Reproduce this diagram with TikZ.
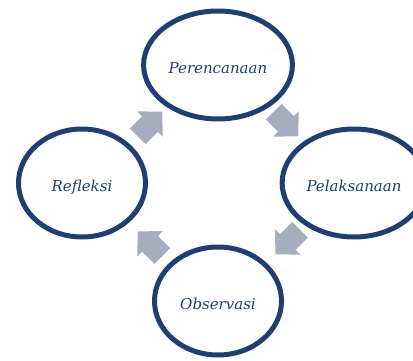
\documentclass[tikz,border=0pt]{standalone}
\usepackage{fontspec}
\setmainfont{DejaVu Serif}
\usetikzlibrary{positioning,calc,shapes.geometric,arrows.meta}
\definecolor{navy}{HTML}{1F3F71}
\definecolor{steel}{HTML}{A6ADBE}

\begin{document}
\begin{tikzpicture}[x=1pt,y=1pt,on grid,node distance=118pt and 136pt,
    main node/.style={ellipse,draw=navy,line width=5pt,minimum width=127pt,
      minimum height=108pt,text=navy,text height=16pt,text depth=0pt,
      font=\itshape\fontsize{15}{18}\selectfont},
    step arrow/.style={draw=steel,line width=22pt,
      -{Triangle[width=35pt,length=17.5pt,fill=steel]}}]

    \useasboundingbox (0,0) rectangle (413,360);

    \node[main node] (0) at (218,295) {Perencanaan};
    \node[main node] (1) [below right=of 0] {Pelaksanaan};
    \node[main node] (2) [below=236pt of 0] {Observasi};
    \node[main node] (3) [below left=of 0] {Refleksi};

    \coordinate (30) at ($(3)!0.5!(0)$);
    \coordinate (01) at ($(0)!0.5!(1)$);
    \coordinate (12) at ($(1)!0.5!(2)$);
    \coordinate (23) at ($(2)!0.5!(3)$);

    \draw[step arrow] ($(30)+(-12.3,-12.3)$) -- ($(30)+(12.3,12.3)$);
    \draw[step arrow] ($(01)+(-12.3,12.3)$) -- ($(01)+(12.3,-12.3)$);
    \draw[step arrow] ($(12)+(14,12.3)$) -- ($(12)+(-10.6,-12.3)$);
    \draw[step arrow] ($(23)+(12.3,-14)$) -- ($(23)+(-12.3,10.6)$);
    \end{tikzpicture}
\end{document}
